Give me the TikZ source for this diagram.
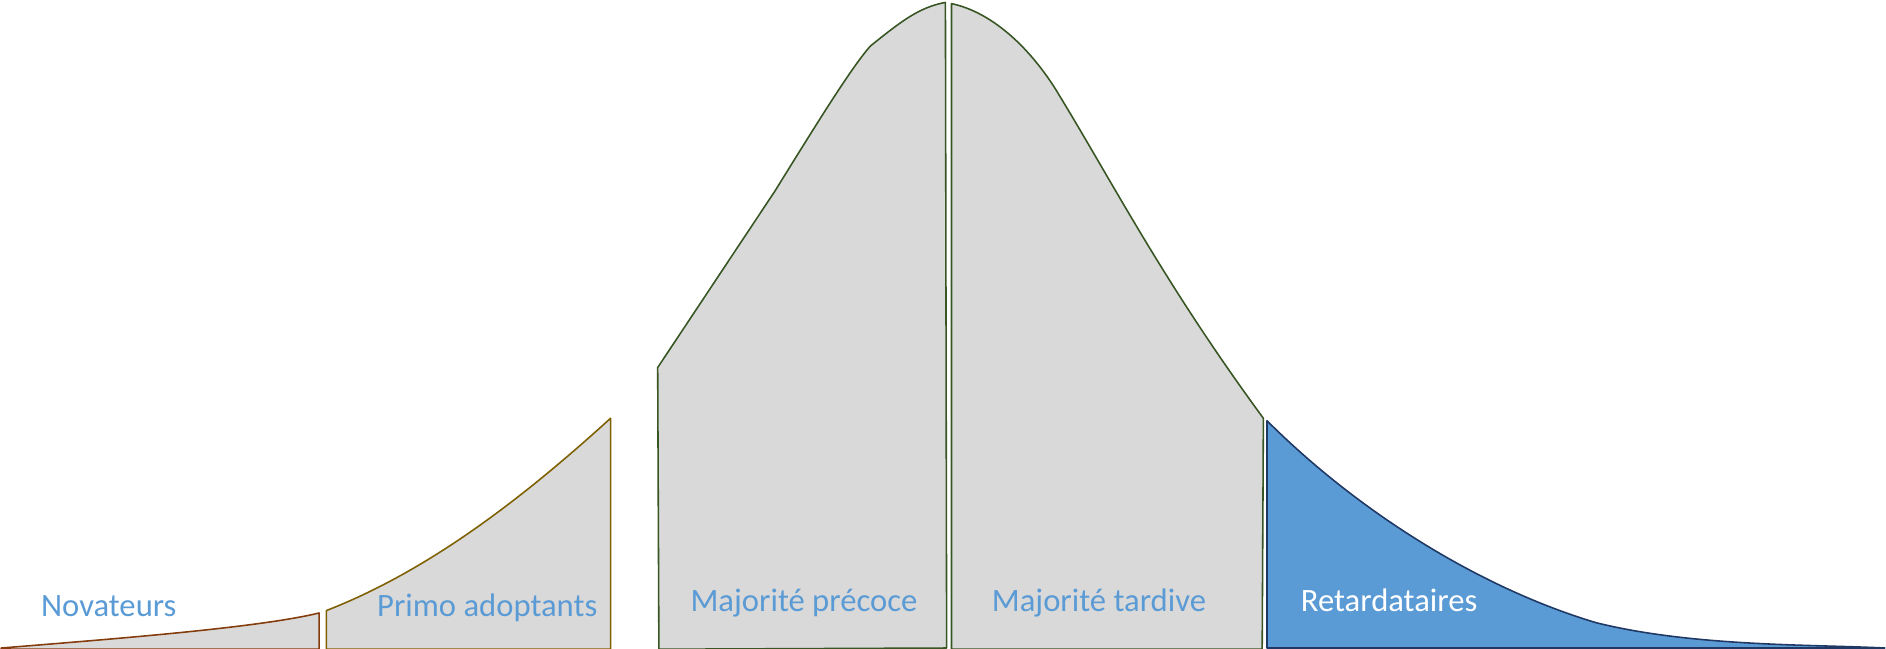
\documentclass[tikz,border=0pt]{standalone}
\usepackage{fontspec}
\setmainfont{Carlito}
\definecolor{grayfill}{HTML}{D9D9D9}
\definecolor{txtblue}{HTML}{5B9BD5}
\definecolor{novline}{HTML}{843C0C}
\definecolor{primoline}{HTML}{7F6000}
\definecolor{majline}{HTML}{375623}
\definecolor{retline}{HTML}{1F3864}
\tikzset{
    part/.style={line width=1.3pt,line join=round,fill=grayfill},
    lbl/.style={anchor=base,text=txtblue,font=\fontsize{27}{32}\selectfont}
}
\begin{document}
\begin{tikzpicture}[x=1pt,y=-1pt]
        \useasboundingbox (0,0) rectangle (1560,536);
        \draw[part,draw=novline] (1,536) .. controls (100,528) and (215,519) .. (264,507) -- (264,537) -- (1,537) -- cycle;
        \draw[part,draw=primoline] (270,505) .. controls (360,470) and (440,405) .. (505,346) -- (505,537) -- (270,537) -- cycle;
        \draw[part,draw=majline] (545,537) -- (544,304) -- (641,158) .. controls (680,95) and (705,55) .. (720,38) .. controls (745,18) and (760,6) .. (782,2) -- (783,536) -- cycle;
        \draw[part,draw=majline] (787,3) .. controls (820,10) and (850,38) .. (872,72) .. controls (920,150) and (960,230) .. (1045,346) -- (1044,537) -- (787,537) -- cycle;
        \draw[part,draw=retline,fill=txtblue] (1048,348) .. controls (1120,420) and (1220,485) .. (1320,515) .. controls (1400,535) and (1500,533) .. (1559,536) -- (1048,536) -- cycle;
        \node[lbl] (nov) at (90,510){Novateurs};
        \node[lbl] (primo) at (403,510){Primo adoptants};
        \node[lbl] (prec) at (665,506){Majorité précoce};
        \node[lbl] (tard) at (909,506){Majorité tardive};
        \node[lbl,text=white] (ret) at (1149,506){Retardataires};
    \end{tikzpicture}
\end{document}
